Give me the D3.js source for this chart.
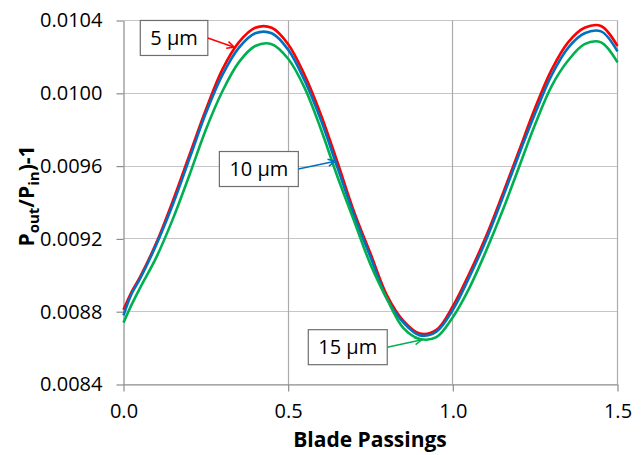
<!DOCTYPE html>
<html lang="en">

<head>
    <meta charset="UTF-8">
    <title>Blade Passings</title>
    <script src="https://d3js.org/d3.v7.min.js"></script>
    <style>
        body { margin: 0; background: #fff; }
        text { font-family: "Open Sans", sans-serif; }
    </style>
</head>

<body>
    <script>
        // blade passings (x) and Pout/Pin - 1 for each roughness
        var xs = [0, 0.025, 0.05, 0.1, 0.15, 0.2, 0.25, 0.3, 0.35, 0.4, 0.45, 0.5, 0.55, 0.6, 0.65, 0.7, 0.75,
            0.8, 0.85, 0.9, 0.95, 1.0, 1.05, 1.1, 1.15, 1.2, 1.25, 1.3, 1.35, 1.4, 1.45, 1.5]
        var red = [0.00881, 0.00891, 0.00899, 0.00918, 0.00941, 0.00966, 0.00991, 0.01013, 0.01028, 0.01036, 0.01036,
            0.01027, 0.01010, 0.00988, 0.00962, 0.00935, 0.00912, 0.00889, 0.00875, 0.00868, 0.00870,
            0.00883, 0.00901, 0.00921, 0.00944, 0.00968, 0.00992, 0.01013, 0.01028, 0.01036, 0.01037, 0.01026]
        var blue = [0.00878, 0.00890, 0.00898, 0.00917, 0.00939, 0.00964, 0.00989, 0.01010, 0.01025, 0.01033, 0.01033,
            0.01024, 0.01007, 0.00985, 0.00959, 0.00933, 0.00910, 0.00887, 0.00874, 0.00867, 0.00869,
            0.00881, 0.00899, 0.00919, 0.00942, 0.00966, 0.00989, 0.01010, 0.01025, 0.01033, 0.01034, 0.01023]
        var green = [0.00874, 0.00884, 0.00893, 0.00910, 0.00931, 0.00955, 0.00980, 0.01001, 0.01017, 0.01026, 0.01027,
            0.01019, 0.01003, 0.00980, 0.00954, 0.00930, 0.00906, 0.00887, 0.00871, 0.00865, 0.00866,
            0.00877, 0.00893, 0.00913, 0.00935, 0.00959, 0.00983, 0.01004, 0.01018, 0.01027, 0.01028, 0.01017]
        var seriesNames = ["5 µm", "10 µm", "15 µm"]
        var xTicks = [0, 0.5, 1.0, 1.5]
        var yTicks = [0.0084, 0.0088, 0.0092, 0.0096, 0.0100, 0.0104]
        // label box centre and arrow tip, in data units
        var labelAt = [[0.1535, 0.010304], [0.411, 0.009584], [0.681, 0.008605]]
        var arrowTo = [[0.336, 0.010253], [0.643, 0.009627], [0.906, 0.008646]]

        var colors = ["#ff0000", "#0070c0", "#00b050"]
        var series = [red, blue, green]

        width = 642
        height = 455
        var m = { left: 123, top: 20, right: 25, bottom: 71 }
        var w = width - m.left - m.right
        var h = height - m.top - m.bottom

        let svg = d3.select("body").append("svg")
            .attr("width", width)
            .attr("height", height)
            .append("g")
            .attr("transform", "translate(" + (m.left + 0.5) + "," + (m.top + 0.5) + ")")

        let xScale = d3.scaleLinear().domain([0, 1.5]).range([0, w])
        let yScale = d3.scaleLinear().domain([0.0084, 0.0104]).range([h, 0])

        // grid lines
        svg.append("g").selectAll("line").data(yTicks).enter().append("line")
            .attr("x1", 0).attr("x2", w)
            .attr("y1", d => Math.round(yScale(d))).attr("y2", d => Math.round(yScale(d)))
            .style("stroke", "#c6c6c6").style("stroke-width", 1.2)
        svg.append("g").selectAll("line").data(xTicks.slice(1)).enter().append("line")
            .attr("x1", d => Math.round(xScale(d))).attr("x2", d => Math.round(xScale(d)))
            .attr("y1", 0).attr("y2", h)
            .style("stroke", "#ababab").style("stroke-width", 1.2)

        // axes
        let xAxis = d3.axisBottom(xScale).tickValues(xTicks).tickFormat(d3.format(".1f")).tickSizeInner(7).tickSizeOuter(0).tickPadding(14)
        let yAxis = d3.axisLeft(yScale).tickValues(yTicks).tickFormat(d3.format(".4f")).tickSizeInner(7).tickSizeOuter(0).tickPadding(14)

        let gx = svg.append("g").attr("transform", "translate(0," + h + ")").call(xAxis)
        let gy = svg.append("g").call(yAxis)
        svg.selectAll(".domain").style("stroke", "#8c8c8c").style("stroke-width", 1.2)
        svg.selectAll(".tick line").style("stroke", "#8c8c8c").style("stroke-width", 1.2)
        svg.selectAll(".tick text").style("font-family", "Open Sans").style("font-size", "20px").style("fill", "#000")
        gx.selectAll(".tick text").attr("dy", "0.6em")

        // curves
        let line = d3.line()
            .x((d, i) => xScale(xs[i]))
            .y(d => yScale(d))
            .curve(d3.curveCatmullRom)

        svg.append("g").selectAll("path").data(series).enter().append("path")
            .attr("d", d => line(d))
            .style("fill", "none")
            .style("stroke", (d, i) => colors[i])
            .style("stroke-width", 2.6)

        // labels with arrows
        let notes = svg.append("g")
        seriesNames.forEach((name, i) => {
            let cx = xScale(labelAt[i][0]), cy = yScale(labelAt[i][1])
            let g = notes.append("g")
            let rect = g.append("rect")
            let t = g.append("text").text(name)
                .attr("x", cx).attr("y", cy)
                .attr("text-anchor", "middle").attr("dy", "0.36em")
                .style("font-size", "20px").style("fill", "#000")
            let bw = t.node().getComputedTextLength() + 20
            let bh = 35
            rect.attr("x", cx - bw / 2).attr("y", cy - bh / 2)
                .attr("width", bw).attr("height", bh)
                .style("fill", "#fff").style("stroke", "#6e6e6e").style("stroke-width", 1.2)

            let x0 = cx + bw / 2, y0 = cy
            let x1 = xScale(arrowTo[i][0]), y1 = yScale(arrowTo[i][1])
            let a = Math.atan2(y1 - y0, x1 - x0)
            g.append("line").attr("x1", x0).attr("y1", y0).attr("x2", x1).attr("y2", y1)
                .style("stroke", colors[i]).style("stroke-width", 1.5)
            let hl = 8, ha = 0.45
            g.append("path")
                .attr("d", "M" + (x1 - hl * Math.cos(a - ha)) + "," + (y1 - hl * Math.sin(a - ha)) +
                    "L" + x1 + "," + y1 +
                    "L" + (x1 - hl * Math.cos(a + ha)) + "," + (y1 - hl * Math.sin(a + ha)))
                .style("fill", "none").style("stroke", colors[i]).style("stroke-width", 1.5)
        })

        // axis titles
        d3.select("svg").append("text")
            .attr("x", m.left + w / 2).attr("y", 447)
            .attr("text-anchor", "middle")
            .style("font-size", "21px").style("font-weight", "bold")
            .text("Blade Passings")

        let yt = d3.select("svg").append("text")
            .attr("transform", "translate(34,196) rotate(-90)")
            .attr("text-anchor", "middle")
            .style("font-size", "21px").style("font-weight", "bold")
        yt.append("tspan").text("P")
        yt.append("tspan").text("out").style("font-size", "15px").attr("dy", 5)
        yt.append("tspan").text("/P").attr("dy", -5)
        yt.append("tspan").text("in").style("font-size", "15px").attr("dy", 5)
        yt.append("tspan").text(")-1").attr("dy", -5)
    </script>

</body>

</html>
